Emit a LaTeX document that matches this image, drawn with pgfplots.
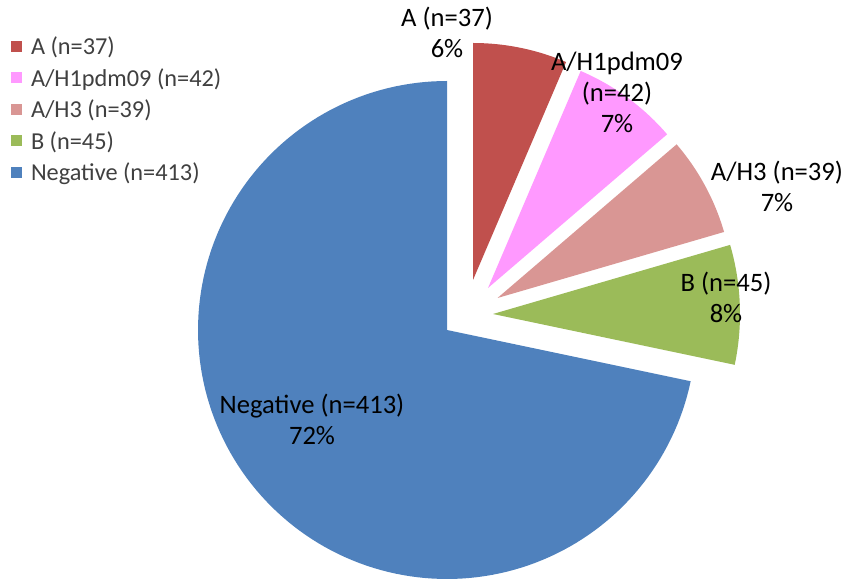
\documentclass[border=0pt]{standalone}
\usepackage{pgfplots}
\pgfplotsset{compat=1.18}
\usepackage{fontspec}
\setmainfont{Carlito}
\definecolor{cA}{HTML}{C0504D}
\definecolor{cH1}{HTML}{FF99FF}
\definecolor{cH3}{HTML}{D99694}
\definecolor{cB}{HTML}{9BBB59}
\definecolor{cNeg}{HTML}{4F81BD}
\definecolor{legtext}{HTML}{404040}
% counts: A=37, A/H1pdm09=42, A/H3=39, B=45, Negative=413 ; total 576
\def\tot{576}
\begin{document}
\begin{tikzpicture}
\begin{axis}[
  width=845bp, height=583bp, scale only axis,
  xmin=0, xmax=845, ymin=0, ymax=583,
  hide axis, clip=false,
  legend style={draw=none, fill=none, at={(axis cs:11,544)}, anchor=north west,
    inner sep=0pt, outer sep=0pt, row sep=9.5bp,
    font=\fontsize{24.4}{28}\selectfont\color{legtext},
    nodes={inner sep=0pt, text height=16bp, text depth=6bp}},
  legend cell align=left,
  /tikz/every odd column/.append style={column sep=9bp},
  legend image code/.code={\fill[#1] (0bp,-2bp) rectangle (11bp,9bp);},
]
\path (axis cs:0,0) rectangle (axis cs:845,583);
% A: 90 -> 90-360*37/576
\addplot[forget plot, fill=cA, draw=none, domain={90-360*37/\tot}:90, samples=40, variable=\t]
  ({473+237*cos(\t)}, {303+237*sin(\t)}) -- (axis cs:473,303) -- cycle;
% A/H1pdm09
\addplot[forget plot, fill=cH1, draw=none, domain={90-360*79/\tot}:{90-360*37/\tot}, samples=40, variable=\t]
  ({488+236*cos(\t)}, {295+236*sin(\t)}) -- (axis cs:488,295) -- cycle;
% A/H3
\addplot[forget plot, fill=cH3, draw=none, domain={90-360*118/\tot}:{90-360*79/\tot}, samples=40, variable=\t]
  ({497.5+236*cos(\t)}, {285+236*sin(\t)}) -- (axis cs:497.5,285) -- cycle;
% B
\addplot[forget plot, fill=cB, draw=none, domain={90-360*163/\tot}:{90-360*118/\tot}, samples=40, variable=\t]
  ({493+247*cos(\t)}, {269+247*sin(\t)}) -- (axis cs:493,269) -- cycle;
% Negative
\addplot[forget plot, fill=cNeg, draw=none, domain={90-360*576/\tot}:{90-360*163/\tot}, samples=150, variable=\t]
  ({447+249*cos(\t)}, {253+249*sin(\t)}) -- (axis cs:447,253) -- cycle;

\addlegendimage{fill=cA, draw=none}
\addlegendentry{A (n=37)}
\addlegendimage{fill=cH1, draw=none}
\addlegendentry{A/H1pdm09 (n=42)}
\addlegendimage{fill=cH3, draw=none}
\addlegendentry{A/H3 (n=39)}
\addlegendimage{fill=cB, draw=none}
\addlegendentry{B (n=45)}
\addlegendimage{fill=cNeg, draw=none}
\addlegendentry{Negative (n=413)}

\begin{scope}[every node/.style={align=center, font=\fontsize{26.7}{31}\selectfont, inner sep=0pt}]
\node at (axis cs:447,551) {A (n=37)\\6\%};
\node at (axis cs:617,491) {A/H1pdm09\\(n=42)\\7\%};
\node at (axis cs:777,396.5) {A/H3 (n=39)\\7\%};
\node at (axis cs:726,286) {B (n=45)\\8\%};
\node at (axis cs:312,163.5) {Negative (n=413)\\72\%};
\end{scope}
\end{axis}
\end{tikzpicture}
\end{document}
